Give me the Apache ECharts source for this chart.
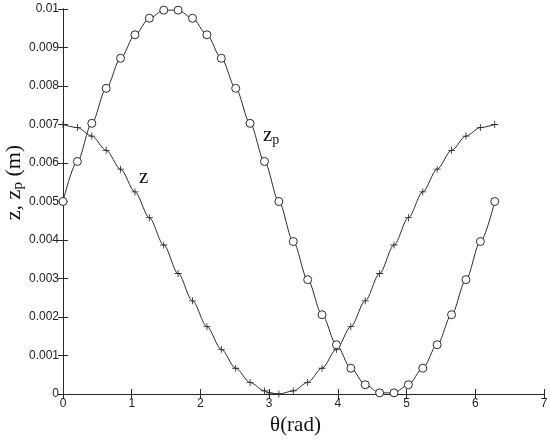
<!DOCTYPE html>
<html>
<head>
<meta charset="utf-8">
<script src="https://cdn.jsdelivr.net/npm/echarts@6/dist/echarts.min.js"></script>
<style>
  html, body { margin: 0; padding: 0; background: #fff; }
  #chart { width: 550px; height: 440px; }
</style>
</head>
<body>
<div id="chart"></div>
<script>
// theta (rad) sample points
const theta = [0, 0.2094, 0.4189, 0.6283, 0.8378, 1.0472, 1.2566, 1.4661, 1.6755, 1.885,
  2.0944, 2.3038, 2.5133, 2.7227, 2.9322, 3.1416, 3.351, 3.5605, 3.7699, 3.9794,
  4.1888, 4.3982, 4.6077, 4.8171, 5.0265, 5.236, 5.4454, 5.6549, 5.8643, 6.0737, 6.2832]

// z (+ markers)
const zVals = [0.007, 0.00692, 0.0067, 0.00633, 0.00584, 0.00525, 0.00458, 0.00387, 0.00313, 0.00242,
  0.00175, 0.00116, 0.00067, 0.0003, 0.00008, 0, 0.00008, 0.0003, 0.00067, 0.00116,
  0.00175, 0.00242, 0.00313, 0.00387, 0.00458, 0.00525, 0.00584, 0.00633, 0.0067, 0.00692, 0.007]
// extra + marker near the bottom
const zExtra = [3.0, 0.00003]

// zp (o markers)
const zpVals = [0.005, 0.00604, 0.00703, 0.00794, 0.00872, 0.00933, 0.00976, 0.00997, 0.00997, 0.00976,
  0.00933, 0.00872, 0.00794, 0.00703, 0.00604, 0.005, 0.00396, 0.00297, 0.00206, 0.00128,
  0.00067, 0.00024, 0.00003, 0.00003, 0.00024, 0.00067, 0.00128, 0.00206, 0.00297, 0.00396, 0.005]

const xTicks = [0, 1, 2, 3, 4, 5, 6, 7]
const yTickStep = 0.001

const ink = '#2a2a2a'
const plus = 'path://M4.4,0H5.6V4.4H10V5.6H5.6V10H4.4V5.6H0V4.4H4.4Z'

const zData = theta.map((t, i) => [t, zVals[i]])
zData.splice(15, 0, zExtra)
const zpData = theta.map((t, i) => [t, zpVals[i]])

const fmtY = (v) => String(parseFloat(v.toFixed(3)))

const serif = 'Liberation Serif'
const richName = {
  a: { fontFamily: serif, fontSize: 22, color: '#111', lineHeight: 26 },
  s: { fontFamily: serif, fontSize: 15, color: '#111', lineHeight: 26, padding: [9, 0, 0, 0] }
}

const chart = echarts.init(document.getElementById('chart'))

const baseX = {
  type: 'value',
  min: xTicks[0],
  max: xTicks[xTicks.length - 1],
  interval: 1,
  splitLine: { show: false },
  axisLine: { lineStyle: { color: ink, width: 1 } },
  axisTick: { inside: true, length: 5, lineStyle: { color: ink } }
}
const baseY = {
  type: 'value',
  min: 0,
  max: 0.01,
  interval: yTickStep,
  splitLine: { show: false },
  axisLine: { lineStyle: { color: ink, width: 1 } },
  axisTick: { inside: true, length: 5, lineStyle: { color: ink } }
}

chart.setOption({
  animation: false,
  backgroundColor: '#fff',
  grid: { left: 63, right: 6, top: 9, bottom: 46, outerBoundsMode: 'none' },
  xAxis: [
    Object.assign({}, baseX, {
      position: 'bottom',
      name: 'θ(rad)',
      nameLocation: 'middle',
      nameGap: 18,
      nameTextStyle: { fontFamily: serif, fontSize: 21, color: '#111', padding: [0, 16, 0, 0] },
      axisLabel: { fontFamily: 'Liberation Sans', fontSize: 12, color: '#222', margin: 4 }
    }),
    Object.assign({}, baseX, { position: 'top', axisLabel: { show: false } })
  ],
  yAxis: [
    Object.assign({}, baseY, {
      position: 'left',
      name: '{a|z, z}{s|p}{a| (m)}',
      nameLocation: 'middle',
      nameGap: 36,
      nameRotate: 90,
      nameMoveOverlap: false,
      nameTextStyle: { rich: richName, padding: [0, 0, 0, 38] },
      axisLabel: { fontFamily: 'Liberation Sans', fontSize: 12, color: '#222', margin: 4, formatter: fmtY }
    }),
    Object.assign({}, baseY, { position: 'right', axisLabel: { show: false } })
  ],
  graphic: [
    {
      type: 'text', left: 139, top: 167,
      style: { text: 'z', font: '21px "Liberation Serif"', fill: '#111' }
    },
    {
      type: 'text', left: 263, top: 124,
      style: {
        text: '{a|z}{s|p}',
        rich: {
          a: { fontFamily: serif, fontSize: 21, fill: '#111', lineHeight: 26 },
          s: { fontFamily: serif, fontSize: 14, fill: '#111', lineHeight: 26, padding: [9, 0, 0, 0] }
        }
      }
    }
  ],
  series: [
    {
      name: 'z',
      type: 'line',
      data: zData,
      smooth: 0.3,
      smoothMonotone: 'x',
      symbol: plus,
      symbolSize: 7,
      showAllSymbol: true,
      lineStyle: { color: ink, width: 1 },
      itemStyle: { color: ink }
    },
    {
      name: 'zp',
      type: 'line',
      data: zpData,
      smooth: 0.3,
      smoothMonotone: 'x',
      symbol: 'circle',
      symbolSize: 8,
      showAllSymbol: true,
      lineStyle: { color: ink, width: 1 },
      itemStyle: { color: '#fff', borderColor: ink, borderWidth: 1 }
    }
  ]
})
</script>
</body>
</html>
